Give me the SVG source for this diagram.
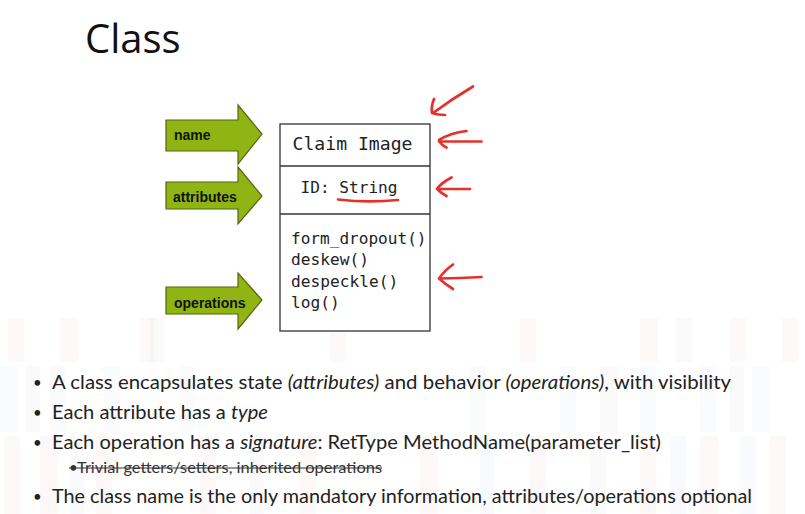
<svg xmlns="http://www.w3.org/2000/svg" width="805" height="514" viewBox="0 0 805 514">
<style>
.bg rect{opacity:0.06}
.g{fill:#8fb414;stroke:#55660a;stroke-width:1.2}
.gl{font-family:"Liberation Sans",Arial,sans-serif;font-weight:bold;font-size:14px;fill:#111}
.box{fill:#fff;stroke:#333;stroke-width:1.3}
.mono{font-family:"DejaVu Sans Mono","Liberation Mono",monospace;fill:#222}
.red{fill:none;stroke:#e8302a;stroke-width:2.7;stroke-linecap:round;stroke-linejoin:round}
.b{font-family:Lato,"Open Sans",sans-serif;font-size:20px;fill:#222}
.dot{font-family:Lato,"Open Sans",sans-serif;font-size:15px;fill:#222}
.s{font-family:Lato,"Open Sans",sans-serif;font-size:15px;fill:#333}
.i{font-style:italic}
</style>
<rect width="805" height="514" fill="#fff"/>
<g class="bg">
<g fill="#d9a0a0">
<rect x="8" y="318" width="16" height="44"/><rect x="60" y="318" width="18" height="44"/><rect x="140" y="318" width="14" height="44"/><rect x="330" y="318" width="16" height="44"/><rect x="520" y="318" width="16" height="44"/><rect x="640" y="318" width="18" height="44"/><rect x="730" y="318" width="16" height="44"/><rect x="782" y="318" width="16" height="44"/>
</g>
<g fill="#9ab8d8">
<rect x="0" y="366" width="18" height="66"/><rect x="50" y="366" width="16" height="66"/><rect x="104" y="366" width="16" height="66"/><rect x="180" y="366" width="14" height="66"/><rect x="470" y="366" width="16" height="66"/><rect x="560" y="366" width="16" height="66"/><rect x="640" y="366" width="16" height="66"/><rect x="700" y="366" width="16" height="66"/><rect x="752" y="366" width="18" height="66"/>
</g>
<g fill="#aaaaaa">
<rect x="26" y="366" width="14" height="66"/><rect x="150" y="318" width="14" height="44"/><rect x="600" y="366" width="18" height="66"/><rect x="676" y="318" width="16" height="44"/><rect x="730" y="366" width="14" height="66"/><rect x="590" y="436" width="16" height="78"/>
</g>
<g fill="#e08080">
<rect x="4" y="436" width="16" height="78"/><rect x="40" y="436" width="18" height="78"/><rect x="96" y="436" width="16" height="78"/><rect x="200" y="436" width="16" height="78"/><rect x="300" y="436" width="16" height="78"/><rect x="420" y="436" width="18" height="78"/><rect x="530" y="436" width="16" height="78"/><rect x="640" y="436" width="16" height="78"/><rect x="700" y="436" width="18" height="78"/><rect x="770" y="436" width="16" height="78"/>
</g>
<g fill="#8fb0d8">
<rect x="70" y="436" width="14" height="78"/><rect x="250" y="436" width="14" height="78"/><rect x="480" y="436" width="14" height="78"/><rect x="670" y="436" width="16" height="78"/><rect x="740" y="436" width="16" height="78"/>
</g>
</g>
<text x="85" y="53" font-family="'Open Sans','Noto Sans',sans-serif" font-size="40" fill="#111">Class</text>
<g id="arrow-name">
<path class="g" d="M166,120 H238 V105 L262,134 L238,164 V151 H166 Z"/>
<text class="gl" x="174" y="140">name</text>
</g>
<g id="arrow-attributes">
<path class="g" d="M166,182 H238 V167 L262,196 L238,224 V209 H166 Z"/>
<text class="gl" x="173" y="202">attributes</text>
</g>
<g id="arrow-operations">
<path class="g" d="M166,287 H238 V273 L262,300 L238,329 V314 H166 Z"/>
<text class="gl" x="174" y="308">operations</text>
</g>
<g id="class-box">
<rect class="box" x="280" y="124" width="150" height="207"/>
<line x1="280" y1="166" x2="430" y2="166" stroke="#333" stroke-width="1.3"/>
<line x1="280" y1="214" x2="430" y2="214" stroke="#333" stroke-width="1.3"/>
<text class="mono" x="292.5" y="149.5" font-size="18" textLength="120" lengthAdjust="spacingAndGlyphs">Claim Image</text>
<text class="mono" x="300.5" y="192.5" font-size="16.2" textLength="97" lengthAdjust="spacingAndGlyphs">ID: String</text>
<g font-size="16.2">
<text class="mono" x="291" y="243.5" textLength="135.5" lengthAdjust="spacingAndGlyphs">form_dropout()</text>
<text class="mono" x="291" y="265">deskew()</text>
<text class="mono" x="291" y="286.5">despeckle()</text>
<text class="mono" x="291" y="308">log()</text>
</g>
</g>
<g id="annotations">
<path class="red" d="M338,199.5 Q368,203 398,200"/>
<path class="red" d="M473,86.5 Q452,99 433,113 M434,99 Q431,106 432,113 Q438,115 445,115"/>
<path class="red" d="M481.5,141.5 H439 M466.5,131 Q450,133 439,140 Q441,145 446.5,147.5"/>
<path class="red" d="M470,189 H437 M451.5,177.5 Q441,183 437,189 Q441,193 446.5,196"/>
<path class="red" d="M481.5,277 Q460,278 439,278.5 M453,264.5 Q444,271 439,278.5 Q445,284 453,289"/>
</g>
<g id="bullets">
<text class="dot" x="33" y="388">•</text>
<text class="b" x="52" y="389" textLength="679" lengthAdjust="spacingAndGlyphs">A class encapsulates state <tspan class="i">(attributes)</tspan> and behavior <tspan class="i">(operations)</tspan>, with visibility</text>
<text class="dot" x="33" y="418">•</text>
<text class="b" x="52" y="419" textLength="216" lengthAdjust="spacingAndGlyphs">Each attribute has a <tspan class="i">type</tspan></text>
<text class="dot" x="33" y="448">•</text>
<text class="b" x="52" y="449" textLength="609" lengthAdjust="spacingAndGlyphs">Each operation has a <tspan class="i">signature</tspan>: RetType MethodName(parameter_list)</text>
<text class="s" x="69" y="473">•</text>
<text class="s" x="77" y="473" textLength="305" lengthAdjust="spacingAndGlyphs">Trivial getters/setters, inherited operations</text>
<line x1="69" y1="468" x2="382" y2="468" stroke="#333" stroke-width="1"/>
<text class="dot" x="33" y="502">•</text>
<text class="b" x="52" y="503" textLength="700" lengthAdjust="spacingAndGlyphs">The class name is the only mandatory information, attributes/operations optional</text>
</g>
</svg>
